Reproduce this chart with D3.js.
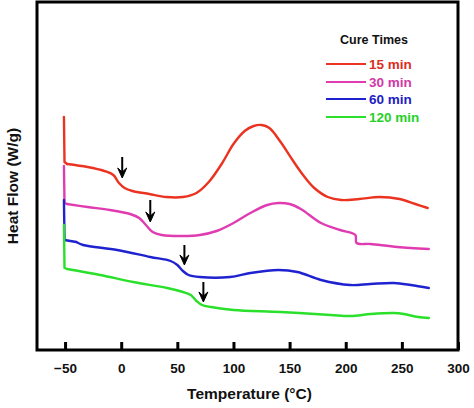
<!DOCTYPE html>
<html>
<head>
<meta charset="utf-8">
<script src="https://cdn.jsdelivr.net/npm/d3@7"></script>
<style>
  html, body { margin: 0; padding: 0; background: #fff; }
  svg { display: block; font-family: "Liberation Sans", Arial, sans-serif; }
</style>
</head>
<body>
<svg id="chart" width="474" height="408"></svg>
<script>
// ---- data (temperature °C, heat flow arbitrary W/g offsets) ----
const seriesNames = ["15 min", "30 min", "60 min", "120 min"];
const seriesColors = ["#ea3320", "#e03cb2", "#1f22cf", "#2ae02a"];
const legendTitle = "Cure Times";

const temp15 = [-51, -50.5, -48.2, -30, -15, -7, -2, 3, 10, 25, 40, 55, 67, 78, 90, 100, 110, 118, 125, 132, 142, 152, 162, 172, 184, 196, 212, 230, 248, 262, 273];
const flow15 = [2.33, 1.88, 1.86, 1.83, 1.79, 1.75, 1.67, 1.62, 1.59, 1.56, 1.53, 1.53, 1.57, 1.68, 1.87, 2.06, 2.19, 2.24, 2.25, 2.22, 2.08, 1.91, 1.75, 1.62, 1.53, 1.50, 1.51, 1.53, 1.51, 1.46, 1.42];

const temp30 = [-51, -50.5, -48.2, -30, -10, 8, 16, 22, 28, 36, 55, 70, 85, 100, 115, 130, 140, 150, 160, 178, 195, 208.6, 209.6, 222, 246, 274];
const flow30 = [1.84, 1.47, 1.46, 1.43, 1.40, 1.36, 1.32, 1.25, 1.18, 1.15, 1.14, 1.15, 1.19, 1.27, 1.37, 1.45, 1.47, 1.46, 1.41, 1.27, 1.20, 1.15, 1.07, 1.06, 1.03, 1.01];

const temp60 = [-51, -50.5, -40, -34, -3.6, 25.9, 44, 50, 55, 60, 70, 97, 115, 140, 157, 178, 204, 222, 243, 258, 274];
const flow60 = [1.50, 1.10, 1.08, 1.05, 1.00, 0.93, 0.89, 0.85, 0.79, 0.75, 0.73, 0.73, 0.77, 0.80, 0.78, 0.70, 0.65, 0.66, 0.67, 0.65, 0.62];

const temp120 = [-51, -50.5, -48.2, -18.75, 10.7, 41, 55, 62, 67, 72, 80, 100, 142, 186.6, 204.5, 222.3, 242.9, 251.8, 264.3, 274.1];
const flow120 = [1.25, 0.82, 0.81, 0.75, 0.68, 0.62, 0.58, 0.55, 0.49, 0.45, 0.43, 0.40, 0.38, 0.35, 0.34, 0.36, 0.37, 0.36, 0.33, 0.32];

// glass-transition arrows: temperature, tail value, tip value
const arrowTemps = [0.9, 25.9, 56.3, 73.2];
const arrowTails = [1.93, 1.50, 1.05, 0.68];
const arrowTips  = [1.72, 1.28, 0.85, 0.48];

const xTicks = [-50, 0, 50, 100, 150, 200, 250, 300];

// ---- layout ----
const svg = d3.select("#chart");
const W = 474, H = 408;
const m = { left: 37, right: 16, top: 2, bottom: 58 };

const x = d3.scaleLinear().domain([-75, 300]).range([m.left, W - m.right]);
const y = d3.scaleLinear().domain([0, 3.48]).range([H - m.bottom, m.top]);

const temps = [temp15, temp30, temp60, temp120];
const flows = [flow15, flow30, flow60, flow120];

const smooth = d3.line().x(d => d[0]).y(d => d[1]).curve(d3.curveCatmullRom.alpha(0.5));
const straight = d3.line().x(d => d[0]).y(d => d[1]);

// curves: initial start-up spike drawn straight, the rest smoothed
temps.forEach((t, i) => {
  const pts = t.map((v, j) => [x(v), y(flows[i][j])]);
  const g = svg.append("g")
    .attr("fill", "none")
    .attr("stroke", seriesColors[i])
    .attr("stroke-width", 2.4)
    .attr("stroke-linejoin", "round")
    .attr("stroke-linecap", "round");
  g.append("path").attr("d", straight(pts.slice(0, 3)));
  g.append("path").attr("d", smooth(pts.slice(2)));
});

// arrows
arrowTemps.forEach((t, i) => {
  const ax = x(t), y0 = y(arrowTails[i]), y1 = y(arrowTips[i]);
  svg.append("line")
    .attr("x1", ax).attr("x2", ax).attr("y1", y0).attr("y2", y1 - 3)
    .attr("stroke", "#000").attr("stroke-width", 2);
  svg.append("path")
    .attr("d", `M${ax},${y1} L${ax - 4.5},${y1 - 10} L${ax},${y1 - 6} L${ax + 4.5},${y1 - 10} Z`)
    .attr("fill", "#000").attr("stroke", "#000").attr("stroke-width", 1);
});

// x axis with inward ticks
const xAxis = d3.axisBottom(x).tickValues(xTicks).tickSizeInner(-8).tickSizeOuter(0).tickPadding(13);
const gx = svg.append("g").attr("transform", `translate(0,${H - m.bottom})`).call(xAxis);
gx.select(".domain").remove();
gx.selectAll(".tick line").attr("stroke", "#000").attr("stroke-width", 3);
gx.selectAll(".tick text")
  .attr("fill", "#111")
  .style("font-size", "13.5px")
  .style("font-weight", "bold")
  .style("font-family", "'Liberation Sans', Arial, sans-serif");

// frame
svg.append("rect")
  .attr("x", m.left).attr("y", m.top)
  .attr("width", W - m.left - m.right).attr("height", H - m.top - m.bottom)
  .attr("fill", "none").attr("stroke", "#000").attr("stroke-width", 3);

// axis titles
svg.append("text")
  .attr("x", (x(-75) + x(300)) / 2 + 2).attr("y", 399)
  .attr("text-anchor", "middle")
  .style("font-size", "15.5px").style("font-weight", "bold").attr("fill", "#111")
  .text("Temperature (°C)");

svg.append("text")
  .attr("transform", `translate(18,${186}) rotate(-90)`)
  .attr("text-anchor", "middle")
  .style("font-size", "15.5px").style("font-weight", "bold").attr("fill", "#111")
  .text("Heat Flow (W/g)");

// legend
svg.append("text")
  .attr("x", 374).attr("y", 44)
  .attr("text-anchor", "middle")
  .style("font-size", "12.5px").style("font-weight", "bold").attr("fill", "#111")
  .text(legendTitle);

const legendY = [64, 82, 99, 117];
seriesNames.forEach((name, i) => {
  svg.append("line")
    .attr("x1", 326).attr("x2", 366)
    .attr("y1", legendY[i]).attr("y2", legendY[i])
    .attr("stroke", seriesColors[i]).attr("stroke-width", 2);
  svg.append("text")
    .attr("x", 369).attr("y", legendY[i] + 5)
    .style("font-size", "13.5px").style("font-weight", "bold")
    .attr("fill", d3.color(seriesColors[i]).darker(0.2))
    .text(name);
});
</script>
</body>
</html>
